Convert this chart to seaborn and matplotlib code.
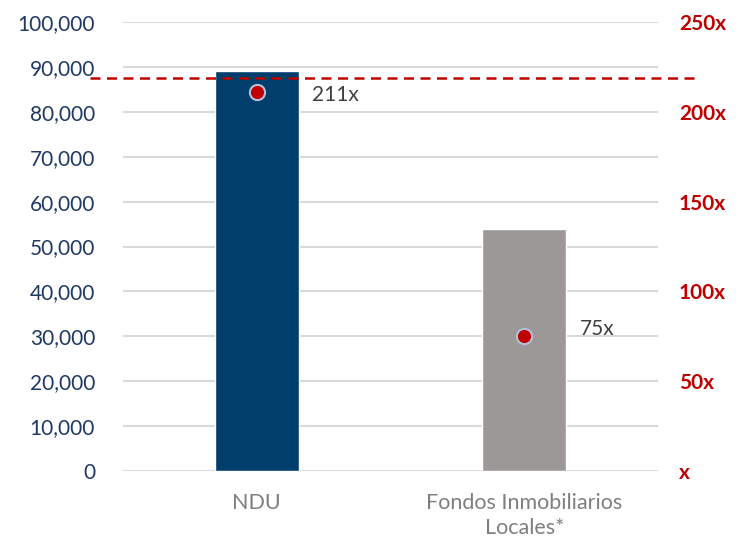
import seaborn as sns
import matplotlib.pyplot as plt
import matplotlib.transforms as mtransforms
import pandas as pd

# data
categories = ["NDU", "Fondos Inmobiliarios\nLocales*"]
values = [89000, 54000]
multiples = [211, 75]
multiple_labels = ["211x", "75x"]
reference_level = 87500
left_ticks = [0, 10000, 20000, 30000, 40000, 50000, 60000, 70000, 80000, 90000, 100000]
right_ticks = [0, 50, 100, 150, 200, 250]
right_tick_labels = ["x", "50x", "100x", "150x", "200x", "250x"]

bar_colors = ["#003f6b", "#9c9897"]
navy = "#1f3864"
red = "#c00000"
grey_text = "#7f7f7f"

sns.set_theme(style="white")
plt.rcParams["font.family"] = ["Lato", "DejaVu Sans"]

df = pd.DataFrame({"category": categories, "value": values, "multiple": multiples})

fig = plt.figure(figsize=(7.36, 5.41), dpi=100)
ax = fig.add_axes([0.167, 0.1294, 0.727, 0.8299])

sns.barplot(data=df, x="category", y="value", hue="category", palette=bar_colors,
            width=0.315, legend=False, ax=ax, saturation=1, zorder=2)
ax.set_xlim(-0.5, 1.5)
ax.set_ylim(0, 100000)
ax.set_yticks(left_ticks)
ax.set_yticklabels([f"{t:,}" for t in left_ticks])
ax.set_xlabel("")
ax.set_ylabel("")
ax.grid(axis="y", color="#d9d9d9", linewidth=1.5, zorder=0)
ax.set_axisbelow(True)
for s in ax.spines.values():
    s.set_visible(False)
ax.tick_params(axis="y", length=0, pad=20, labelsize=15, labelcolor=navy)
ax.tick_params(axis="x", length=0, pad=16, labelsize=15.5, labelcolor=grey_text)
for lbl in ax.get_xticklabels():
    lbl.set_linespacing(1.3)

# dashed reference line, running past the plot area on both sides
trans = mtransforms.blended_transform_factory(ax.transAxes, ax.transData)
ax.plot([-0.062, 1.073], [reference_level, reference_level], transform=trans,
        color=red, linestyle=(0, (4, 2.6)), linewidth=1.8, clip_on=False, zorder=5)

ax2 = ax.twinx()
sns.scatterplot(data=df, x="category", y="multiple", ax=ax2, s=120, color=red,
                edgecolor="#b4c0d8", linewidth=1.5, zorder=6)
ax2.set_ylim(0, 250)
ax2.set_yticks(right_ticks)
ax2.set_yticklabels(right_tick_labels)
ax2.set_ylabel("")
for s in ax2.spines.values():
    s.set_visible(False)
ax2.tick_params(axis="y", length=0, pad=15, labelsize=15, labelcolor=red)
for lbl in ax2.get_yticklabels():
    lbl.set_fontweight("bold")

label_offsets = [(40, -2), (40, 5)]
for i, (m, txt) in enumerate(zip(multiples, multiple_labels)):
    ax2.annotate(txt, (i, m), xytext=label_offsets[i], textcoords="offset points",
                 fontsize=15, color="#404040", va="center", ha="left")

fig.savefig("out.png", dpi=100)
